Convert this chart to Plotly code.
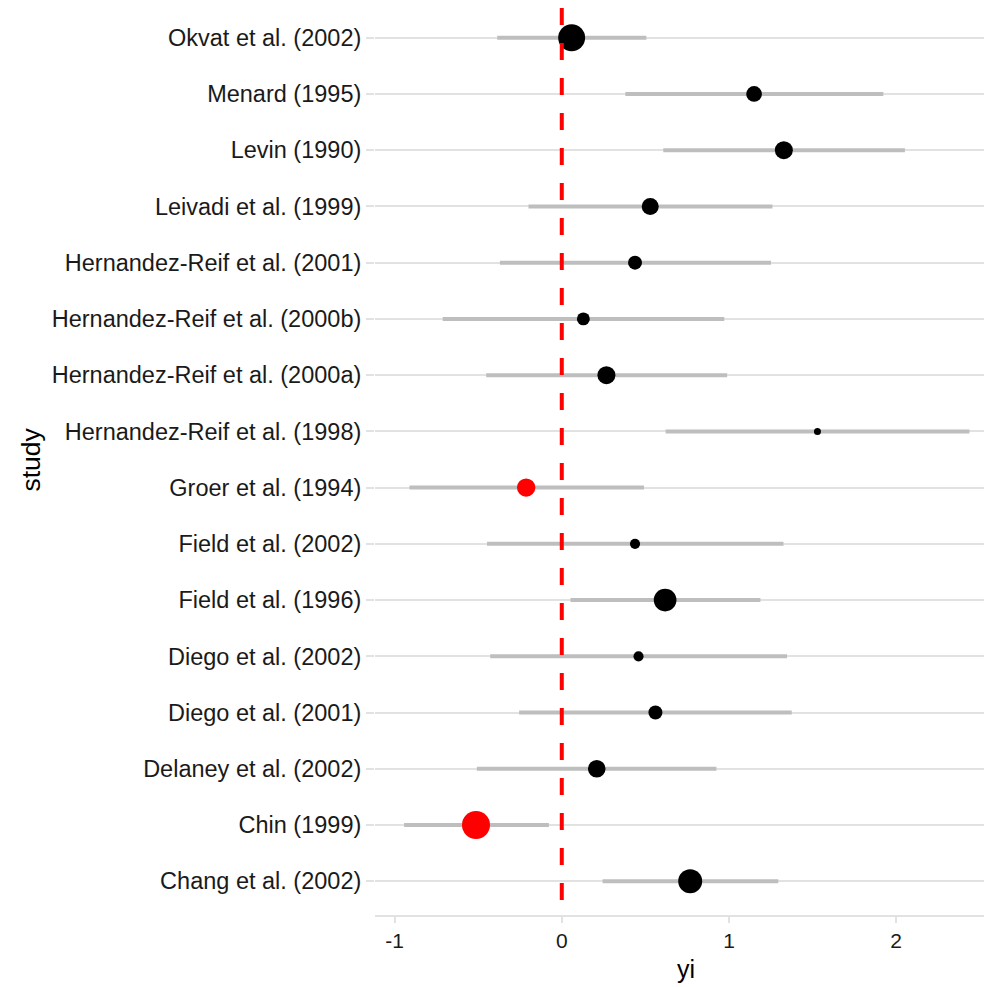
import plotly.graph_objects as go

studies = [
    "Chang et al. (2002)", "Chin (1999)", "Delaney et al. (2002)", "Diego et al. (2001)",
    "Diego et al. (2002)", "Field et al. (1996)", "Field et al. (2002)", "Groer et al. (1994)",
    "Hernandez-Reif et al. (1998)", "Hernandez-Reif et al. (2000a)", "Hernandez-Reif et al. (2000b)",
    "Hernandez-Reif et al. (2001)", "Leivadi et al. (1999)", "Levin (1990)", "Menard (1995)",
    "Okvat et al. (2002)",
]
yi = [0.768, -0.513, 0.209, 0.560, 0.459, 0.618, 0.438, -0.213,
      1.529, 0.267, 0.129, 0.438, 0.529, 1.328, 1.150, 0.059]
ci_lb = [0.244, -0.943, -0.508, -0.255, -0.428, 0.052, -0.447, -0.911,
         0.621, -0.452, -0.712, -0.370, -0.199, 0.607, 0.380, -0.386]
ci_ub = [1.295, -0.077, 0.925, 1.375, 1.347, 1.188, 1.326, 0.492,
         2.438, 0.989, 0.972, 1.251, 1.260, 2.052, 1.923, 0.506]
weights = [15.0, 20.5, 8.7, 6.4, 5.0, 13.5, 5.0, 9.3,
           4.65, 9.0, 5.9, 6.4, 8.25, 9.0, 7.4, 19.0]
x_ticks = [-1, 0, 1, 2]

# size mapping (area scale)
wmin, wmax = min(weights), max(weights)
dmin, dmax = 7, 28
sizes = [dmin + (dmax - dmin) * ((w - wmin) / (wmax - wmin)) ** 0.5 for w in weights]
colors = ["#FF0000" if v < 0 else "#000000" for v in yi]

FONT = "Liberation Sans, Arial, Helvetica, sans-serif"
GRID = "#E2E2E2"

seg_x, seg_y = [], []
for s, lo, hi in zip(studies, ci_lb, ci_ub):
    seg_x += [lo, hi, None]
    seg_y += [s, s, None]

fig = go.Figure()
fig.add_trace(go.Scatter(x=seg_x, y=seg_y, mode="lines",
                         line=dict(color="#BEBEBE", width=4), hoverinfo="skip",
                         showlegend=False))
fig.add_trace(go.Scatter(x=yi, y=studies, mode="markers",
                         marker=dict(size=sizes, color=colors, opacity=1, line=dict(width=0)),
                         showlegend=False))

fig.add_shape(type="line", xref="x", yref="paper", x0=0, x1=0, y0=1 - 4 / 911, y1=0,
              line=dict(color="#FF0000", width=4, dash="17px,18px"), layer="above")

fig.add_annotation(text="study", xref="paper", yref="paper", x=(30 - 375) / 609, y=0.5,
                   textangle=-90, showarrow=False, xanchor="center", yanchor="middle",
                   font=dict(size=26.5, family=FONT, color="#000"))
fig.add_annotation(text="yi", xref="paper", yref="paper", x=(686 - 375) / 609,
                   y=-(969 - 915) / 911, showarrow=False, xanchor="center", yanchor="middle",
                   font=dict(size=25, family=FONT, color="#000"))

fig.update_layout(
    width=984, height=987,
    margin=dict(l=375, r=0, t=4, b=72),
    plot_bgcolor="white", paper_bgcolor="white",
    font=dict(family=FONT, color="#1a1a1a"),
    xaxis=dict(range=[-1.117, 2.525], tickvals=x_ticks, ticktext=[str(t) for t in x_ticks],
               showgrid=False, zeroline=False, showline=True, linecolor=GRID, linewidth=2,
               ticks="outside", ticklen=6, tickcolor=GRID, tickwidth=2,
               tickfont=dict(size=21, color="#1a1a1a", family=FONT)),
    yaxis=dict(type="category", categoryorder="array", categoryarray=studies,
               range=[-0.6, len(studies) - 0.4],
               showgrid=True, gridcolor=GRID, gridwidth=2, zeroline=False,
               ticks="outside", ticklen=8, tickcolor=GRID, tickwidth=2,
               tickfont=dict(size=23.5, color="#1a1a1a", family=FONT)),
)

fig.write_html("out.html")
